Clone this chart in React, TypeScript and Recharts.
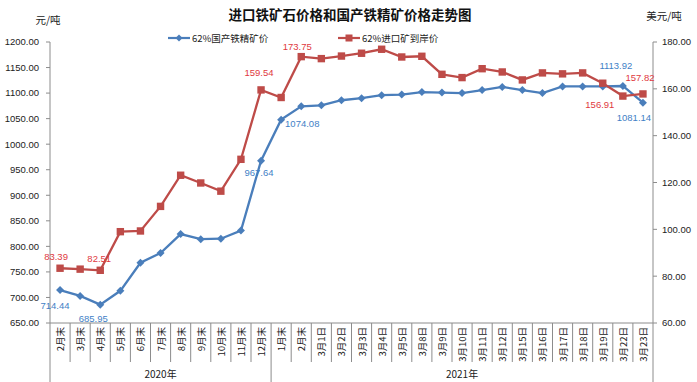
import React from "react";
import { LineChart, Line, XAxis, YAxis } from "recharts";

const categories = [
  "2月末", "3月末", "4月末", "5月末", "6月末", "7月末", "8月末", "9月末", "10月末", "11月末", "12月末",
  "1月末", "2月末", "3月1日", "3月2日", "3月3日", "3月4日", "3月5日", "3月8日", "3月9日", "3月10日",
  "3月11日", "3月12日", "3月15日", "3月16日", "3月17日", "3月18日", "3月19日", "3月22日", "3月23日",
];

const yearGroups = [
  { label: "2020年", size: 11 },
  { label: "2021年", size: 19 },
];

// 62%国产铁精矿价 (元/吨, left axis)
const domesticPrice = [
  714.44, 703, 685.95, 713, 768, 787, 824, 814, 815, 831, 967.64,
  1048, 1074.08, 1076, 1086, 1090, 1096, 1097, 1102, 1101, 1100,
  1106, 1112, 1106, 1100, 1113, 1113, 1113, 1113.92, 1081.14,
];

// 62%进口矿到岸价 (美元/吨, right axis)
const importPrice = [
  83.39, 83.0, 82.51, 99.0, 99.3, 109.8, 123.1, 119.8, 116.3, 129.9, 159.54,
  156.3, 173.75, 172.9, 174.0, 175.2, 176.9, 173.6, 173.9, 166.2, 164.8,
  168.6, 167.2, 163.8, 166.8, 166.4, 166.8, 162.4, 156.91, 157.82,
];

const leftTicks = [650, 700, 750, 800, 850, 900, 950, 1000, 1050, 1100, 1150, 1200];
const rightTicks = [60, 80, 100, 120, 140, 160, 180];

const labelledPoints = [0, 2, 10, 12, 28, 29];

// label offsets from the marker, [dx, dy]
const domesticLabelOffset: Record<number, number[]> = {
  0: [-5, 15], 2: [-7, 14], 10: [-2, 12], 12: [1, 17], 28: [-7, -20], 29: [-9, 15],
};
const importLabelOffset: Record<number, number[]> = {
  0: [-4, -12], 2: [-1, -12], 10: [-2, -17], 12: [-4, -10], 28: [-23, 8], 29: [-3, -16],
};

const data = categories.map((name, i) => ({
  key: i,
  name,
  domestic: domesticPrice[i],
  imported: importPrice[i],
}));

const W = 697;
const H = 382;
const LEFT_W = 50;
const RIGHT_W = 44;
const TOP = 42;
const XAXIS_H = 59;
const STEP = (W - LEFT_W - RIGHT_W) / categories.length;

const BLUE = "#4A7EBB";
const RED = "#BE4B48";
const BLUE_TEXT = "#3F7FC6";
const RED_TEXT = "#E0393E";
const AXIS = "#8C8C8C";
const CJK = "'Noto Sans CJK SC', 'Noto Sans', sans-serif";
const NUM = "'Liberation Sans', Arial, sans-serif";

const groupStarts = yearGroups.reduce<number[]>((acc, g, i) => {
  acc.push(i === 0 ? 0 : acc[i - 1] + yearGroups[i - 1].size);
  return acc;
}, []);

const CategoryTick = (props: any) => {
  const { x, y, payload } = props;
  const i = Number(payload.value);
  const gi = groupStarts.indexOf(i);
  const isLast = i === categories.length - 1;
  const left = x - STEP / 2;
  const yearIdx = groupStarts.findIndex(
    (s, k) => i === s + Math.floor((yearGroups[k].size - 1) / 2)
  );
  return (
    <g>
      <line x1={left} x2={left} y1={y} y2={gi >= 0 ? y + 59 : y + 39} stroke={AXIS} strokeWidth={1} />
      {isLast && <line x1={x + STEP / 2} x2={x + STEP / 2} y1={y} y2={y + 59} stroke={AXIS} strokeWidth={1} />}
      <text
        transform={`translate(${x},${y + 4}) rotate(-90)`}
        textAnchor="end"
        dominantBaseline="central"
        fontSize={9.5}
        fontFamily={CJK}
        fill="#222"
      >
        {categories[i]}
      </text>
      {yearIdx >= 0 && (
        <text
          x={yearGroups[yearIdx].size % 2 === 0 ? x + STEP / 2 : x}
          y={y + 50}
          textAnchor="middle"
          dominantBaseline="central"
          fontSize={10}
          fontFamily={CJK}
          fill="#222"
        >
          {yearGroups[yearIdx].label}
        </text>
      )}
    </g>
  );
};

const makeDot = (kind: "diamond" | "square", offsets: Record<number, number[]>, color: string, textColor: string) =>
  (props: any) => {
    const { cx, cy, index, value } = props;
    if (cx == null || cy == null) return <g key={`d${kind}${index}`} />;
    const off = labelledPoints.includes(index) ? offsets[index] : null;
    return (
      <g key={`d${kind}${index}`}>
        {kind === "diamond" ? (
          <path d={`M${cx},${cy - 4} L${cx + 4},${cy} L${cx},${cy + 4} L${cx - 4},${cy} Z`} fill={color} />
        ) : (
          <rect x={cx - 3.7} y={cy - 3.7} width={7.4} height={7.4} fill={color} />
        )}
        {off && (
          <text
            x={cx + off[0]}
            y={cy + off[1]}
            textAnchor="middle"
            dominantBaseline="central"
            fontSize={9.5}
            fontFamily={NUM}
            fill={textColor}
          >
            {Number(value).toFixed(2)}
          </text>
        )}
      </g>
    );
  };

const Overlay = () => (
  <svg width={W} height={H} style={{ position: "absolute", left: 0, top: 0, pointerEvents: "none" }}>
    <text x={350} y={14} textAnchor="middle" dominantBaseline="central" fontSize={13.5} fontWeight="bold" fontFamily={CJK} fill="#111">
      进口铁矿石价格和国产铁精矿价格走势图
    </text>
    <text x={48} y={19} textAnchor="middle" dominantBaseline="central" fontSize={10.5} fontFamily={CJK} fill="#222">
      元/吨
    </text>
    <text x={664} y={15} textAnchor="middle" dominantBaseline="central" fontSize={10.5} fontFamily={CJK} fill="#222">
      美元/吨
    </text>
    <line x1={168} x2={190} y1={38} y2={38} stroke={BLUE} strokeWidth={2.2} />
    <path d="M179,34.5 L182.5,38 L179,41.5 L175.5,38 Z" fill={BLUE} />
    <text x={192} y={38} dominantBaseline="central" fontSize={9.5} fontFamily={CJK} fill="#222">
      62%国产铁精矿价
    </text>
    <line x1={338} x2={360} y1={38} y2={38} stroke={RED} strokeWidth={2.2} />
    <rect x={345.5} y={34.5} width={7} height={7} fill={RED} />
    <text x={362} y={38} dominantBaseline="central" fontSize={9.5} fontFamily={CJK} fill="#222">
      62%进口矿到岸价
    </text>
  </svg>
);

export default function App() {
  return (
    <div style={{ position: "absolute", left: 0, top: 0, width: W, height: H, background: "#fff" }}>
      <LineChart width={W} height={H} data={data} margin={{ top: TOP, right: 0, bottom: 0, left: 0 }}>
        <XAxis
          dataKey="key"
          type="category"
          padding={{ left: STEP / 2, right: STEP / 2 }}
          interval={0}
          height={XAXIS_H}
          tickLine={false}
          tickSize={0}
          tickMargin={0}
          axisLine={{ stroke: AXIS }}
          tick={(p: any) => <CategoryTick {...p} />}
        />
        <YAxis
          yAxisId="left"
          width={LEFT_W}
          domain={[650, 1200]}
          ticks={leftTicks}
          interval={0}
          tickSize={4}
          tickMargin={7}
          axisLine={{ stroke: AXIS }}
          tickLine={{ stroke: AXIS }}
          tickFormatter={(v: number) => v.toFixed(2)}
          tick={{ fontSize: 9.5, fontFamily: NUM, fill: "#222" }}
        />
        <YAxis
          yAxisId="right"
          orientation="right"
          width={RIGHT_W}
          domain={[60, 180]}
          ticks={rightTicks}
          interval={0}
          tickSize={4}
          tickMargin={5}
          axisLine={{ stroke: AXIS }}
          tickLine={{ stroke: AXIS }}
          tickFormatter={(v: number) => v.toFixed(2)}
          tick={{ fontSize: 9.5, fontFamily: NUM, fill: "#222" }}
        />
        <Line
          yAxisId="left"
          dataKey="domestic"
          stroke={BLUE}
          strokeWidth={2.3}
          dot={makeDot("diamond", domesticLabelOffset, BLUE, BLUE_TEXT)}
          activeDot={false}
          isAnimationActive={false}
        />
        <Line
          yAxisId="right"
          dataKey="imported"
          stroke={RED}
          strokeWidth={2.3}
          dot={makeDot("square", importLabelOffset, RED, RED_TEXT)}
          activeDot={false}
          isAnimationActive={false}
        />
      </LineChart>
      <Overlay />
    </div>
  );
}
